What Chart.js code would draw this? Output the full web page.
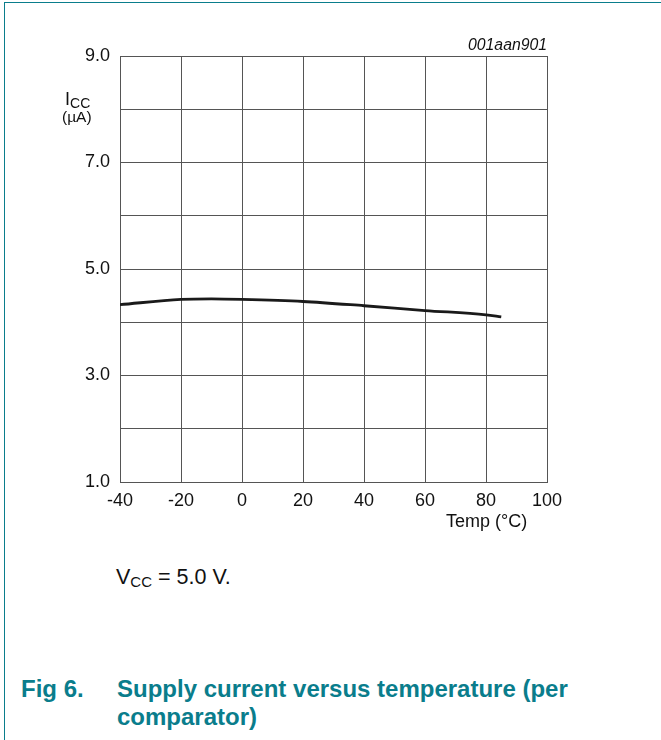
<!DOCTYPE html>
<html>
<head>
<meta charset="utf-8">
<script src="https://cdn.jsdelivr.net/npm/chart.js@4"></script>
<style>
  html, body { margin: 0; padding: 0; background: #fff; }
  body { width: 661px; height: 740px; position: relative; overflow: hidden; font-family: "Liberation Sans", Arial, sans-serif; color: #111; }
  .frame-top { position: absolute; left: 4px; top: 2px; right: 0; height: 1px; background: #0a7d8c; }
  .frame-left { position: absolute; left: 4px; top: 2px; width: 1px; bottom: 0; background: #0a7d8c; }
  #wrap { position: absolute; left: 0; top: 0; width: 661px; height: 540px; }
  .txt { position: absolute; white-space: nowrap; line-height: 1; }
  .code { left: 468px; top: 37px; font-size: 15.8px; font-style: italic; }
  .ylab { left: 65px; top: 90px; font-size: 18px; }
  .ylab sub { font-size: 14px; vertical-align: -3px; }
  .yunit { left: 62px; top: 109px; font-size: 15.5px; }
  .xlab { left: 446px; top: 512px; font-size: 18px; }
  .vcc { left: 116px; top: 567px; font-size: 21.5px; }
  .vcc sub { font-size: 15px; vertical-align: -3px; }
  .cap { font-weight: bold; color: #0a7d8c; font-size: 24px; line-height: 28px; }
  .fig { left: 21px; top: 675px; }
  .title { left: 117px; top: 675px; }
</style>
</head>
<body>
<div class="frame-top"></div>
<div class="frame-left"></div>
<div id="wrap"><canvas id="c"></canvas></div>
<div class="txt code">001aan901</div>
<div class="txt ylab">I<sub>CC</sub></div>
<div class="txt yunit">(µA)</div>
<div class="txt xlab">Temp (°C)</div>
<div class="txt vcc">V<sub>CC</sub> = 5.0 V.</div>
<div class="txt cap fig">Fig 6.</div>
<div class="txt cap title">Supply current versus temperature (per<br>comparator)</div>
<script>
// ── Data ───────────────────────────────────────────────────────
const temps = [-40, -20, -10, 0, 20, 40, 60, 80, 85];
const icc   = [4.33, 4.43, 4.44, 4.43, 4.39, 4.31, 4.22, 4.14, 4.10];
const yLabelTicks = [1, 3, 5, 7, 9];

const GRID = "#555";
const tickFont = { family: "'Liberation Sans', Arial, sans-serif", size: 18 };

new Chart(document.getElementById("c"), {
  type: "line",
  data: {
    datasets: [{
      data: temps.map((t, i) => ({ x: t, y: icc[i] })),
      borderColor: "#1a1a1a", borderWidth: 2.8,
      pointRadius: 0, cubicInterpolationMode: "monotone", fill: false,
    }],
  },
  options: {
    responsive: true, maintainAspectRatio: false, animation: false,
    layout: { padding: { top: 56, right: 114, left: 0, bottom: 0 } },
    plugins: { legend: { display: false }, tooltip: { enabled: false } },
    scales: {
      x: {
        type: "linear", min: -40, max: 100,
        ticks: { stepSize: 20, color: "#111", font: tickFont, padding: 8, maxRotation: 0 },
        grid: { color: GRID, lineWidth: 1, drawTicks: false },
        border: { color: GRID, width: 1 },
        afterFit: s => { s.height = 540 - 482; },
      },
      y: {
        min: 1, max: 9,
        ticks: {
          stepSize: 1, color: "#111", font: tickFont, padding: 10, autoSkip: false,
          callback: v => yLabelTicks.includes(v) ? v.toFixed(1) : "",
        },
        grid: { color: GRID, lineWidth: 1, drawTicks: false },
        border: { color: GRID, width: 1 },
        afterFit: s => { s.width = 120; },
      },
    },
  },
});
</script>
</body>
</html>
